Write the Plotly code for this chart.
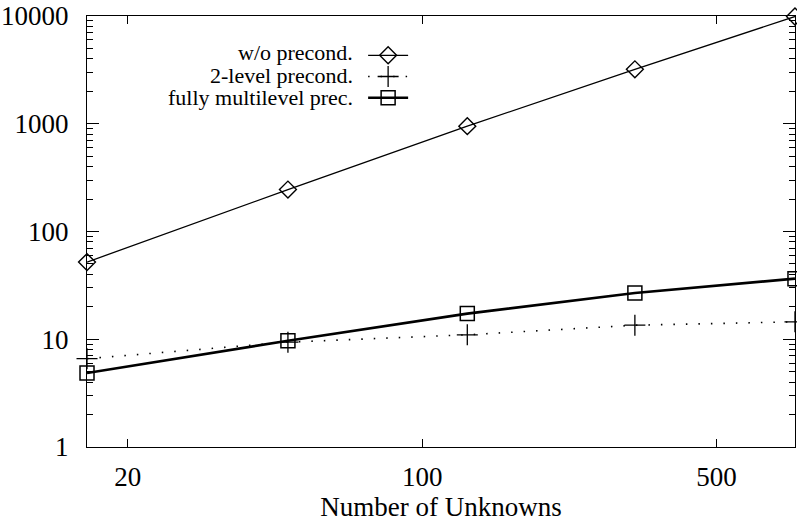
import plotly.graph_objects as go

unknowns = [16, 48, 128, 320, 768]
wo_precond = [52, 245, 950, 3200, 9900]
two_level = [6.6, 9.4, 11.0, 13.5, 14.5]
multilevel = [4.86, 9.7, 17.3, 26.9, 36.5]

series_names = ["w/o precond.", "2-level precond.", "fully multilevel prec."]

y_ticks = [1, 10, 100, 1000, 10000]
y_ticktext = ["1", "10", "100", "1000", "10000"]
x_ticks = [20, 100, 500]
x_ticktext = ["20", "100", "500"]

FONT = "Liberation Serif, Times New Roman, serif"

fig = go.Figure()
fig.add_trace(go.Scatter(
    x=unknowns, y=wo_precond, mode="lines+markers", name="", cliponaxis=False,
    line=dict(color="black", width=1.3),
    marker=dict(symbol="diamond-open", size=13, color="black", line=dict(width=1.4, color="black")),
))
fig.add_trace(go.Scatter(
    x=unknowns, y=two_level, mode="lines+markers", name="", cliponaxis=False,
    line=dict(color="black", width=1.6, dash="1.5px,11px"),
    marker=dict(symbol="cross-thin-open", size=15, color="black", line=dict(width=1.3, color="black")),
))
fig.add_trace(go.Scatter(
    x=unknowns, y=multilevel, mode="lines+markers", name="", cliponaxis=False,
    line=dict(color="black", width=2.6),
    marker=dict(symbol="square-open", size=14, color="black", line=dict(width=1.5, color="black")),
))

minor_y = [m * 10 ** e for e in range(0, 4) for m in range(2, 10)]

fig.update_layout(
    width=797, height=522,
    margin=dict(l=87, r=2, t=16, b=75),
    paper_bgcolor="white", plot_bgcolor="white",
    font=dict(family=FONT, size=26, color="black"),
    showlegend=True,
    legend=dict(x=0.39, y=0.945, xanchor="left", yanchor="top",
                bgcolor="rgba(0,0,0,0)", borderwidth=0,
                font=dict(family=FONT, size=14), itemwidth=40,
                tracegroupgap=0),
    xaxis=dict(
        type="log", range=[1.2041, 2.8854], automargin=False,
        tickmode="array", tickvals=x_ticks, ticktext=x_ticktext,
        ticks="inside", ticklen=8, tickwidth=1.2, tickcolor="black",
        showline=True, linecolor="black", linewidth=1.3, mirror="ticks",
        showgrid=False, zeroline=False,
        title=dict(text="Number of Unknowns", font=dict(family=FONT, size=27), standoff=8),
        tickfont=dict(family=FONT, size=27),
        ticklabelstandoff=5,
    ),
    yaxis=dict(
        type="log", range=[0, 4], automargin=False,
        tickmode="array", tickvals=y_ticks, ticktext=y_ticktext,
        ticks="inside", ticklen=12, tickwidth=1.2, tickcolor="black",
        minor=dict(tickmode="array", tickvals=minor_y, ticks="inside", ticklen=6,
                   tickwidth=1, tickcolor="black", showgrid=False),
        showline=True, linecolor="black", linewidth=1.3, mirror="ticks",
        showgrid=False, zeroline=False,
        tickfont=dict(family=FONT, size=27),
        ticklabelstandoff=12,
    ),
)

label_y = [0.916, 0.862, 0.811]
for name, yy in zip(series_names, label_y):
    fig.add_annotation(
        xref="paper", yref="paper", x=0.379, y=yy, xanchor="right", yanchor="middle",
        text=name, showarrow=False, font=dict(family=FONT, size=22, color="black"),
    )

fig.write_html(
    "out.html",
    config={"displayModeBar": False},
    post_script=(
        "document.body.style.margin='0';"
        "document.body.style.overflow='hidden';"
        "Plotly.relayout('{plot_id}', {width: 797, height: 522});"
    ),
)
